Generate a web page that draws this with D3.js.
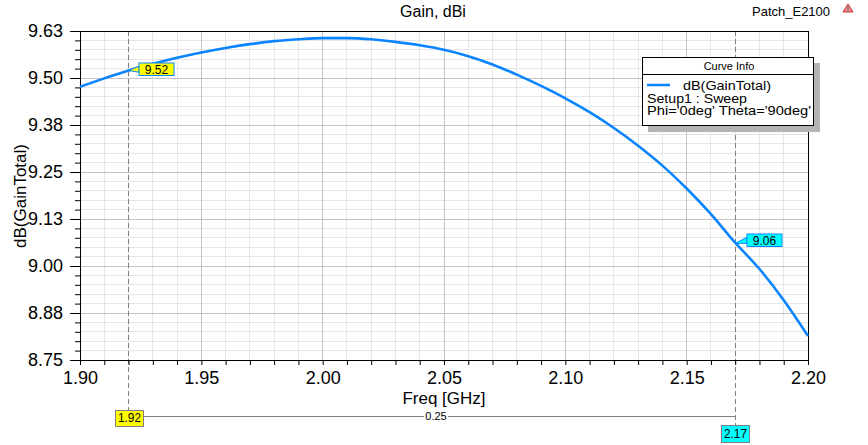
<!DOCTYPE html>
<html>
<head>
<meta charset="utf-8">
<script src="https://cdn.jsdelivr.net/npm/d3@7"></script>
<style>
  html, body { margin: 0; padding: 0; background: #fff; }
  svg { display: block; font-family: Arial, "Liberation Sans", sans-serif; }
</style>
</head>
<body>
<svg id="chart" width="868" height="445"></svg>
<script>
// ---- data ----
const freq = [1.90,1.91,1.92,1.93,1.94,1.95,1.96,1.97,1.98,1.99,2.00,2.01,2.02,2.03,2.04,2.05,2.06,2.07,2.08,2.09,2.10,2.11,2.12,2.13,2.14,2.15,2.16,2.17,2.18,2.19,2.20];
const gain = [9.477,9.499,9.520,9.538,9.554,9.568,9.580,9.590,9.598,9.603,9.606,9.606,9.603,9.596,9.587,9.575,9.558,9.536,9.509,9.479,9.446,9.409,9.367,9.320,9.267,9.206,9.138,9.062,8.992,8.909,8.814];
const xTicks = [1.90,1.95,2.00,2.05,2.10,2.15,2.20];
const xTickLabels = ["1.90","1.95","2.00","2.05","2.10","2.15","2.20"];
const yTicks = [8.75,8.875,9.0,9.125,9.25,9.375,9.5,9.625];
const yTickLabels = ["8.75","8.88","9.00","9.13","9.25","9.38","9.50","9.63"];
const markerFreqs = [1.92, 2.17];
const markerValues = ["9.52", "9.06"];
const markerFreqLabels = ["1.92", "2.17"];
const markerDelta = "0.25";
const legendLines = ["dB(GainTotal)", "Setup1 : Sweep", "Phi='0deg' Theta='90deg'"];

// ---- layout ----
const svg = d3.select("#chart");
const L = 80, R = 808, T = 31, B = 360;
const x = d3.scaleLinear().domain([1.90, 2.20]).range([L, R]);
const y = d3.scaleLinear().domain([8.75, 9.625]).range([B, T]);
const blue = "#0a84ff";

// grid minor
const xMinor = d3.range(190, 221, 1).map(v => v / 100);
const yMinor = d3.range(0, 36).map(i => 8.75 + i * 0.025);
const g = svg.append("g");
g.selectAll(".xm").data(xMinor).enter().append("line")
  .attr("x1", d => x(d)).attr("x2", d => x(d)).attr("y1", T).attr("y2", B)
  .attr("stroke", "#e6e6e6").attr("stroke-width", 1).attr("shape-rendering", "crispEdges");
g.selectAll(".ym").data(yMinor).enter().append("line")
  .attr("x1", L).attr("x2", R).attr("y1", d => y(d)).attr("y2", d => y(d))
  .attr("stroke", "#e6e6e6").attr("stroke-width", 1).attr("shape-rendering", "crispEdges");
g.selectAll(".xM").data(xTicks).enter().append("line")
  .attr("x1", d => x(d)).attr("x2", d => x(d)).attr("y1", T).attr("y2", B)
  .attr("stroke", "#c4c4c4").attr("stroke-width", 1).attr("shape-rendering", "crispEdges");
g.selectAll(".yM").data(yTicks).enter().append("line")
  .attr("x1", L).attr("x2", R).attr("y1", d => y(d)).attr("y2", d => y(d))
  .attr("stroke", "#c4c4c4").attr("stroke-width", 1).attr("shape-rendering", "crispEdges");

// marker dashed lines
const mLineBottoms = [410, 425];
markerFreqs.forEach((f, i) => {
  svg.append("line").attr("x1", x(f)).attr("x2", x(f)).attr("y1", T).attr("y2", mLineBottoms[i])
    .attr("stroke", "#808080").attr("stroke-width", 1).attr("stroke-dasharray", "5,3")
    .attr("shape-rendering", "crispEdges");
});

// frame
svg.append("rect").attr("x", L).attr("y", T).attr("width", R - L).attr("height", B - T)
  .attr("fill", "none").attr("stroke", "#000").attr("stroke-width", 1).attr("shape-rendering", "crispEdges");

// axes
const xAxis = d3.axisBottom(x).tickValues(xTicks).tickFormat((d, i) => xTickLabels[i]).tickSize(5).tickPadding(6);
const xa = svg.append("g").attr("transform", `translate(0,${B})`).call(xAxis);
xa.select(".domain").attr("stroke", "#000");
xa.selectAll("text").attr("font-size", 18).attr("fill", "#000").attr("font-family", "Arial, 'Liberation Sans', sans-serif");
const xMinTickVals = xMinor.filter(v => !xTicks.some(t => Math.abs(t - v) < 1e-9));
const xmt = d3.axisBottom(x).tickValues(xMinTickVals).tickFormat("").tickSize(5);
const xm = svg.append("g").attr("transform", `translate(0,${B})`).call(xmt);
xm.select(".domain").remove();

const yAxis = d3.axisLeft(y).tickValues(yTicks).tickFormat((d, i) => yTickLabels[i]).tickSize(10).tickPadding(7);
const ya = svg.append("g").attr("transform", `translate(${L},0)`).call(yAxis);
ya.select(".domain").attr("stroke", "#000");
ya.selectAll("text").attr("font-size", 18).attr("fill", "#000").attr("font-family", "Arial, 'Liberation Sans', sans-serif");
const yMinTickVals = yMinor.filter(v => !yTicks.some(t => Math.abs(t - v) < 1e-9));
const ymt = d3.axisLeft(y).tickValues(yMinTickVals).tickFormat("").tickSize(5);
const ym = svg.append("g").attr("transform", `translate(${L},0)`).call(ymt);
ym.select(".domain").remove();

// axis titles
svg.append("text").attr("x", 444).attr("y", 404).attr("text-anchor", "middle")
  .attr("font-size", 17).text("Freq [GHz]");
svg.append("text").attr("transform", "translate(26,196) rotate(-90)").attr("text-anchor", "middle")
  .attr("font-size", 17).text("dB(GainTotal)");
svg.append("text").attr("x", 433).attr("y", 17).attr("text-anchor", "middle")
  .attr("font-size", 16).text("Gain, dBi");
svg.append("text").attr("x", 752).attr("y", 16).attr("font-size", 13).text("Patch_E2100");
// small icon
svg.append("path").attr("d", "M848,4 L853,12 L843,12 Z").attr("fill", "#e88").attr("stroke", "#c33").attr("stroke-width", 1);
svg.append("line").attr("x1", 848).attr("x2", 848).attr("y1", 6).attr("y2", 12).attr("stroke", "#777");

// curve
const line = d3.line().x((d, i) => x(freq[i])).y(d => y(d)).curve(d3.curveMonotoneX);
svg.append("path").datum(gain).attr("d", line).attr("fill", "none")
  .attr("stroke", blue).attr("stroke-width", 2.6);

// marker value labels
const valBoxes = [{bx: 139, by: 63, w: 35, h: 12.5, fill: "#ffff00"}, {bx: 747, by: 234, w: 35, h: 12.5, fill: "#00ffff"}];
markerFreqs.forEach((f, i) => {
  const px = x(f), py = y(+markerValues[i]);
  const b = valBoxes[i];
  const midY = b.by + b.h / 2;
  svg.append("path")
    .attr("d", `M${px},${py} L${b.bx},${midY - 3} L${b.bx},${midY + 3} Z`)
    .attr("fill", b.fill).attr("stroke", blue).attr("stroke-width", 1);
  svg.append("rect").attr("x", b.bx).attr("y", b.by).attr("width", b.w).attr("height", b.h)
    .attr("fill", b.fill).attr("stroke", blue).attr("stroke-width", 1);
  svg.append("text").attr("x", b.bx + b.w / 2).attr("y", b.by + b.h - 2).attr("text-anchor", "middle")
    .attr("font-size", 12).text(markerValues[i]);
});

// bottom delta line
svg.append("line").attr("x1", 143).attr("x2", x(markerFreqs[1])).attr("y1", 416).attr("y2", 416)
  .attr("stroke", "#808080").attr("stroke-width", 1).attr("shape-rendering", "crispEdges");
svg.append("rect").attr("x", 424).attr("y", 409).attr("width", 24).attr("height", 13).attr("fill", "#fff");
svg.append("text").attr("x", 436).attr("y", 420).attr("text-anchor", "middle").attr("font-size", 11).text(markerDelta);

// bottom freq labels
const fBoxes = [{bx: 115, by: 410, w: 28, h: 16, fill: "#ffff00"}, {bx: 721, by: 425, w: 28, h: 17, fill: "#00ffff"}];
fBoxes.forEach((b, i) => {
  svg.append("rect").attr("x", b.bx + 0.5).attr("y", b.by + 0.5).attr("width", b.w).attr("height", b.h)
    .attr("fill", b.fill).attr("stroke", "#808080").attr("stroke-width", 1);
  svg.append("text").attr("x", b.bx + b.w / 2 + 0.5).attr("y", b.by + b.h - 4).attr("text-anchor", "middle")
    .attr("font-size", 12).attr("textLength", 23).attr("lengthAdjust", "spacingAndGlyphs").text(markerFreqLabels[i]);
});

// legend
const lg = svg.append("g");
lg.append("rect").attr("x", 648).attr("y", 63).attr("width", 172).attr("height", 69).attr("fill", "#b4b4b4");
lg.append("rect").attr("x", 642.5).attr("y", 57.5).attr("width", 171).attr("height", 68)
  .attr("fill", "#fff").attr("stroke", "#000").attr("stroke-width", 1);
lg.append("text").attr("x", 729).attr("y", 70).attr("text-anchor", "middle").attr("font-size", 11).text("Curve Info");
lg.append("line").attr("x1", 643).attr("x2", 813).attr("y1", 74.5).attr("y2", 74.5).attr("stroke", "#000");
lg.append("line").attr("x1", 647).attr("x2", 670).attr("y1", 85).attr("y2", 85).attr("stroke", blue).attr("stroke-width", 2.5);
lg.append("text").attr("x", 683).attr("y", 90).attr("font-size", 12).attr("textLength", 88).attr("lengthAdjust", "spacingAndGlyphs").text(legendLines[0]);
lg.append("text").attr("x", 647).attr("y", 102.5).attr("font-size", 12).attr("textLength", 100).attr("lengthAdjust", "spacingAndGlyphs").text(legendLines[1]);
lg.append("text").attr("x", 647).attr("y", 115).attr("font-size", 12).attr("textLength", 164).attr("lengthAdjust", "spacingAndGlyphs").text(legendLines[2]);
</script>
</body>
</html>
